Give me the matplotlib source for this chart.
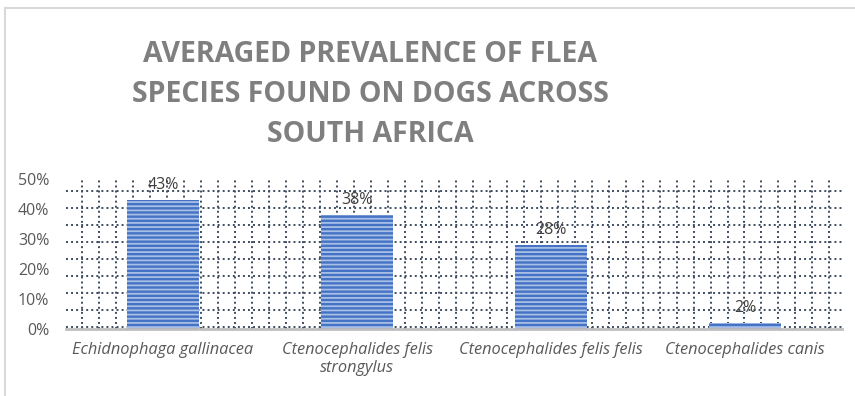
import numpy as np
import matplotlib.pyplot as plt
from matplotlib.patches import Rectangle

species = ['Echidnophaga gallinacea', 'Ctenocephalides felis\nstrongylus',
           'Ctenocephalides felis felis', 'Ctenocephalides canis']
prevalence = [0.43, 0.38, 0.28, 0.02]
ytick_vals = [0, 0.1, 0.2, 0.3, 0.4, 0.5]
ytick_text = ['0%', '10%', '20%', '30%', '40%', '50%']

plt.rcParams['font.family'] = ['Open Sans', 'DejaVu Sans']
plt.rcParams['hatch.linewidth'] = 1.3

fig = plt.figure(figsize=(8.55, 3.96), dpi=100)
ax = fig.add_axes([66/855, 1-329/396, 776/855, 150/396])

x = np.arange(len(species))
ax.set_xlim(-0.5, 3.5)
ax.set_ylim(0, 0.5)

# dotted square grid
grid_kw = dict(color='#3E4C60', linestyle=(0, (1, 1.6)), linewidth=1.4, zorder=0)
for gy in np.arange(0.0067, 0.47, 0.0567):
    ax.axhline(gy, **grid_kw)
for gx in np.arange(-0.419, 3.5, 0.0876):
    ax.axvline(gx, **grid_kw)

bars = ax.bar(x, prevalence, width=0.376, color='#4472C4', edgecolor='#A8BFE6',
              linewidth=0, hatch='----', zorder=2)

for b, v in zip(bars, prevalence):
    ax.annotate(f'{v:.0%}', (b.get_x() + b.get_width()/2, v), xytext=(0, 5),
                textcoords='offset points', ha='center', va='bottom',
                fontsize=11.5, color='#404040', zorder=3)

ax.set_yticks(ytick_vals)
ax.set_yticklabels(ytick_text)
ax.set_xticks(x)
ax.set_xticklabels(species, style='italic')
ax.tick_params(axis='y', length=0, pad=12, labelsize=11.5, labelcolor='#595959')
ax.tick_params(axis='x', length=0, pad=9, labelsize=11.8, labelcolor='#595959')

for s in ['top', 'right', 'left']:
    ax.spines[s].set_visible(False)
ax.spines['bottom'].set_color('#BFBFBF')
ax.spines['bottom'].set_linewidth(2)
ax.spines['bottom'].set_zorder(4)

fig.text(370/855, 1-95/396,
         'AVERAGED PREVALENCE OF FLEA\nSPECIES FOUND ON DOGS ACROSS\nSOUTH AFRICA',
         ha='center', va='center', fontsize=20.5, fontweight='bold',
         color='#7F7F7F', linespacing=1.5)

fig.patches.append(Rectangle((5/855, -0.1), 1.1, 1.1 - 8/396, transform=fig.transFigure,
                             fill=False, edgecolor='#D9D9D9', linewidth=1.5))

fig.savefig('out.png', dpi=100)
